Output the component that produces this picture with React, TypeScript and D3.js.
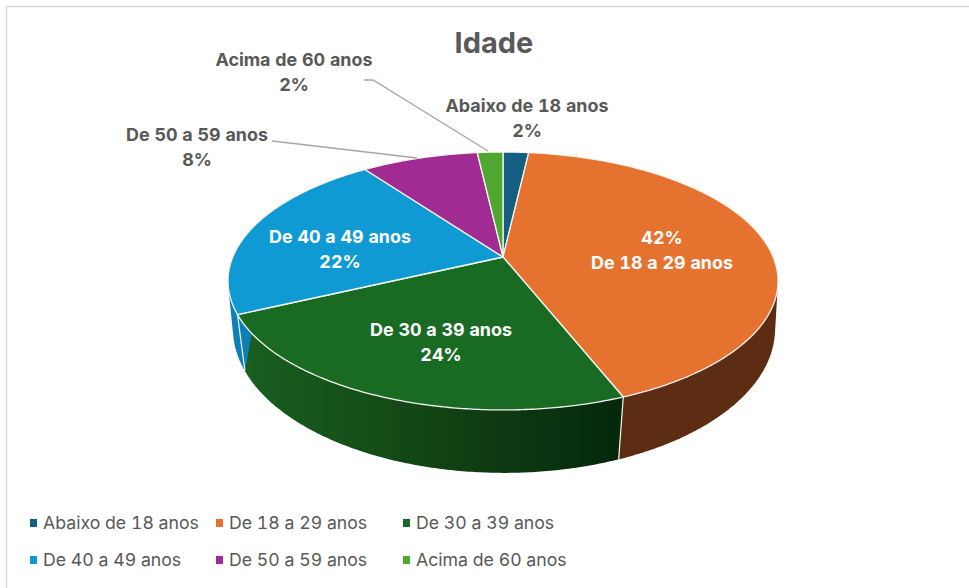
import React from "react";
import * as d3 from "d3";

const categories = ["Abaixo de 18 anos", "De 18 a 29 anos", "De 30 a 39 anos", "De 40 a 49 anos", "De 50 a 59 anos", "Acima de 60 anos"];
const shares = [1.8, 42.2, 24, 22, 8.2, 1.8];
const percentLabels = ["2%", "42%", "24%", "22%", "8%", "2%"];
const topColors = ["#156082", "#E67230", "#196B24", "#0F9AD3", "#A02B93", "#4EA72E"];
const sideColors = ["#0c3a4e", "#5C2C13", "url(#greenSide)", "#0D80B3", "#6b1d62", "#2f6a1c"];

const FONT = "Inter, 'Open Sans', sans-serif";
const TEXT = "#595959";

const top = { cx: 503, cy: 257, a: 270.2, b: 124.5, q: -0.186 };
const bottom = { cx: 504, cy: 307, a: 268, b: 141, q: -0.15 };

type Face = typeof top;
const project = (f: Face, t: number): [number, number] => {
  const u = Math.sin(t);
  const v = -Math.cos(t);
  const w = 1 + f.q * v;
  return [f.cx + (f.a * u) / w, f.cy + (f.b * v) / w];
};
const samples = (f: Face, a0: number, a1: number) => {
  const n = Math.max(2, Math.ceil(Math.abs(a1 - a0) / 0.01));
  return d3.range(n + 1).map((i) => project(f, a0 + ((a1 - a0) * i) / n));
};
const toPath = (pts: [number, number][]) => d3.line()(pts) + "Z";

const pie = d3.pie<number>().sort(null).value((d) => d)(shares);

const SIDE_FROM = (70 * Math.PI) / 180;
const SIDE_TO = (290 * Math.PI) / 180;

const dataLabels = [
  { i: 0, x: 527, y: 112, dark: true, pctFirst: false },
  { i: 1, x: 662, y: 244, dark: false, pctFirst: true },
  { i: 2, x: 441, y: 336, dark: false, pctFirst: false },
  { i: 3, x: 340, y: 243, dark: false, pctFirst: false },
  { i: 4, x: 197, y: 141, dark: true, pctFirst: false },
  { i: 5, x: 294, y: 66, dark: true, pctFirst: false },
];
const leaders = [
  [[364, 80], [373, 80], [488, 151]],
  [[272, 141], [281, 142], [417, 158]],
] as [number, number][][];

const legendRows = [[0, 1, 2], [3, 4, 5]];
const legendX = [30, 216, 403];
const legendY = [523, 560];

export default function App() {
  return (
    <svg width={969} height={588} style={{ position: "absolute", left: 0, top: 0, background: "#fff" }}>
      <defs>
        <linearGradient id="greenSide" gradientUnits="userSpaceOnUse" x1={245} x2={622} y1={0} y2={0}>
          <stop offset="0" stopColor="#195F20" />
          <stop offset="0.5" stopColor="#124414" />
          <stop offset="0.8" stopColor="#0A3310" />
          <stop offset="1" stopColor="#05280B" />
        </linearGradient>
      </defs>
      <path d="M6.5,588V6.5H969" fill="none" stroke="#D9D9D9" strokeWidth={1.5} />

      <text x={494} y={53} textAnchor="middle" fontFamily={FONT} fontWeight={700} fontSize={29} fill={TEXT}>Idade</text>

      {pie.map((s, i) => {
        const a0 = Math.max(s.startAngle, SIDE_FROM);
        const a1 = Math.min(s.endAngle, SIDE_TO);
        if (a1 <= a0) return null;
        const pts = d3.polygonHull([...samples(top, a0, a1), ...samples(bottom, a1, a0)]) as [number, number][];
        return <path key={i} d={toPath(pts)} fill={sideColors[i]} stroke="none" />;
      })}
      {pie.map((s, i) => {
        if (s.endAngle <= SIDE_FROM || s.endAngle >= SIDE_TO) return null;
        return <path key={i} d={d3.line()([project(top, s.endAngle), project(bottom, s.endAngle)]) as string} stroke="#F2F2F2" strokeWidth={1.2} fill="none" />;
      })}
      {pie.map((s, i) => {
        const pts = [[top.cx, top.cy] as [number, number], ...samples(top, s.startAngle, s.endAngle)];
        return <path key={i} d={toPath(pts)} fill={topColors[i]} stroke="#F5F5F0" strokeWidth={1.3} strokeLinejoin="round" />;
      })}

      {leaders.map((l, i) => (
        <path key={i} d={d3.line()(l) as string} fill="none" stroke="#A6A6A6" strokeWidth={1.3} />
      ))}

      {dataLabels.map((d) => {
        const fill = d.dark ? TEXT : "#fff";
        const lines = d.pctFirst ? [percentLabels[d.i], categories[d.i]] : [categories[d.i], percentLabels[d.i]];
        return (
          <g key={d.i} fontFamily={FONT} fontWeight={700} fontSize={17.9} fill={fill} textAnchor="middle" style={{ fontVariantNumeric: "tabular-nums" }}>
            <text x={d.x} y={d.y}>{lines[0]}</text>
            <text x={d.x} y={d.y + 25}>{lines[1]}</text>
          </g>
        );
      })}

      {legendRows.map((row, r) =>
        row.map((c, k) => (
          <g key={c}>
            <rect x={legendX[k]} y={legendY[r] - 4} width={7} height={8} fill={topColors[c]} />
            <text x={legendX[k] + 13} y={legendY[r] + 6} fontFamily={FONT} fontSize={17.7} fill={TEXT} style={{ fontVariantNumeric: "tabular-nums" }}>{categories[c]}</text>
          </g>
        ))
      )}
    </svg>
  );
}
